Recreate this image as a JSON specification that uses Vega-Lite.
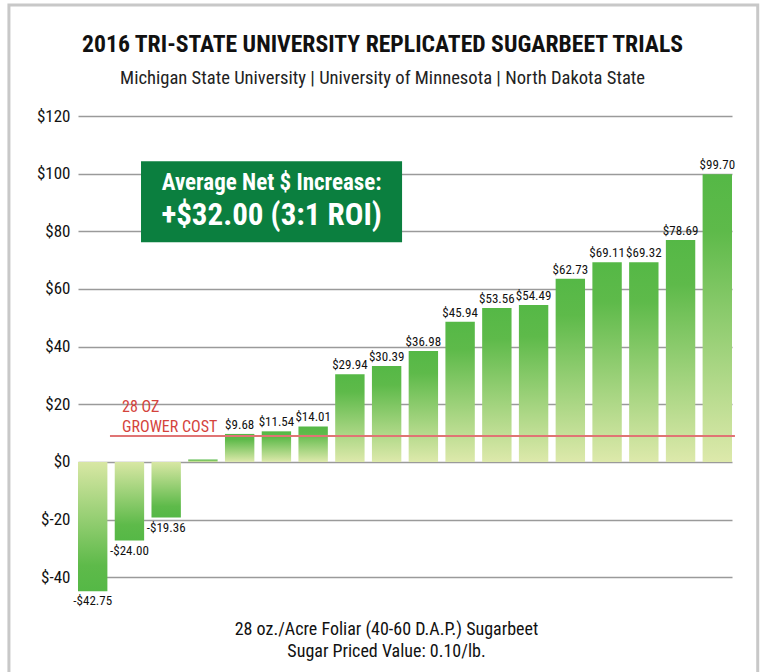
{
  "$schema": "https://vega.github.io/schema/vega-lite/v6.json",
  "autosize": "none",
  "width": 654,
  "height": 490,
  "padding": {"left": 78, "top": 116, "right": 31, "bottom": 66},
  "background": "white",
  "config": {
    "view": {"stroke": null},
    "font": "'Roboto Condensed', 'Liberation Sans Narrow', 'DejaVu Sans Condensed', Roboto, sans-serif"
  },
  "data": {
    "values": [
      {"i": 1, "value": -44.9, "label": "-$42.75"},
      {"i": 2, "value": -27.3, "label": "-$24.00"},
      {"i": 3, "value": -19.3, "label": "-$19.36"},
      {"i": 4, "value": 0.8, "label": ""},
      {"i": 5, "value": 9.7, "label": "$9.68"},
      {"i": 6, "value": 10.6, "label": "$11.54"},
      {"i": 7, "value": 12.3, "label": "$14.01"},
      {"i": 8, "value": 30.4, "label": "$29.94"},
      {"i": 9, "value": 33.3, "label": "$30.39"},
      {"i": 10, "value": 38.5, "label": "$36.98"},
      {"i": 11, "value": 48.6, "label": "$45.94"},
      {"i": 12, "value": 53.4, "label": "$53.56"},
      {"i": 13, "value": 54.4, "label": "$54.49"},
      {"i": 14, "value": 63.5, "label": "$62.73"},
      {"i": 15, "value": 69.3, "label": "$69.11"},
      {"i": 16, "value": 69.3, "label": "$69.32"},
      {"i": 17, "value": 77.0, "label": "$78.69"},
      {"i": 18, "value": 99.8, "label": "$99.70"}
    ]
  },
  "layer": [
    {
      "transform": [{"filter": "datum.value >= 0"}, {"calculate": "datum.i - 0.4", "as": "x0"}, {"calculate": "datum.i + 0.4", "as": "x1"}],
      "mark": {
        "type": "rect",
        "color": {
          "gradient": "linear", "x1": 0, "y1": 0, "x2": 0, "y2": 1,
          "stops": [
            {"offset": 0, "color": "#55b846"},
            {"offset": 0.2, "color": "#5eba4a"},
            {"offset": 1, "color": "#dde9ab"}
          ]
        }
      },
      "encoding": {
        "x": {"field": "x0", "type": "quantitative", "scale": {"domain": [0.6, 18.4], "nice": false, "zero": false}, "axis": {"title": ["28 oz./Acre Foliar (40-60 D.A.P.) Sugarbeet", "Sugar Priced Value: 0.10/lb."], "labels": false, "ticks": false, "domain": false, "grid": false, "titleFontSize": 18, "titleFontWeight": "normal", "titleColor": "#111111", "titleLineHeight": 22, "titlePadding": 14, "titleX": 308, "titleAnchor": "middle"}},
        "x2": {"field": "x1"},
        "y": {"field": "value", "type": "quantitative", "scale": {"domain": [-50, 120], "nice": false}, "axis": {"title": null, "values": [-40, -20, 0, 20, 40, 60, 80, 100, 120], "labelExpr": "'$' + datum.value", "labelFontSize": 17, "labelColor": "#111111", "labelPadding": 8, "ticks": false, "domain": false, "grid": true, "gridColor": "#9a9a9a", "gridWidth": 1.5}},
        "y2": {"datum": 0}
      }
    },
    {
      "transform": [{"filter": "datum.value < 0"}, {"calculate": "datum.i - 0.4", "as": "x0"}, {"calculate": "datum.i + 0.4", "as": "x1"}],
      "mark": {
        "type": "rect",
        "color": {
          "gradient": "linear", "x1": 0, "y1": 0, "x2": 0, "y2": 1,
          "stops": [
            {"offset": 0, "color": "#d8e7a4"},
            {"offset": 0.8, "color": "#5eba4a"},
            {"offset": 1, "color": "#55b846"}
          ]
        }
      },
      "encoding": {
        "x": {"field": "x0", "type": "quantitative"},
        "x2": {"field": "x1"},
        "y": {"field": "value", "type": "quantitative"},
        "y2": {"datum": 0}
      }
    },
    {
      "transform": [{"filter": "datum.value >= 0"}],
      "mark": {"type": "text", "baseline": "alphabetic", "dy": -5, "fontSize": 13, "color": "#111111"},
      "encoding": {
        "x": {"field": "i", "type": "quantitative"},
        "y": {"field": "value", "type": "quantitative"},
        "text": {"field": "label"}
      }
    },
    {
      "transform": [{"filter": "datum.value < 0"}],
      "mark": {"type": "text", "baseline": "top", "dy": 4, "fontSize": 13, "color": "#111111"},
      "encoding": {
        "x": {"field": "i", "type": "quantitative"},
        "y": {"field": "value", "type": "quantitative"},
        "text": {"field": "label"}
      }
    },
    {
      "data": {"values": [{"cost": 9.0, "from": 1.47, "to": 18.48}]},
      "mark": {"type": "rule", "color": "#e07474", "strokeWidth": 2},
      "encoding": {
        "x": {"field": "from", "type": "quantitative"},
        "x2": {"field": "to"},
        "y": {"field": "cost", "type": "quantitative"}
      }
    },
    {
      "data": {"values": [{"x": 1.8, "y": 17.3, "t": "28 OZ"}, {"x": 1.8, "y": 10.3, "t": "GROWER COST"}]},
      "mark": {"type": "text", "align": "left", "baseline": "alphabetic", "fontSize": 16, "color": "#d4433c"},
      "encoding": {
        "x": {"field": "x", "type": "quantitative"},
        "y": {"field": "y", "type": "quantitative"},
        "text": {"field": "t"}
      }
    },
    {
      "data": {"values": [{"x": 2.315, "x2": 9.42, "y": 104.3, "y2": 76.2}]},
      "mark": {"type": "rect", "color": "#0b7f3f"},
      "encoding": {
        "x": {"field": "x", "type": "quantitative"},
        "x2": {"field": "x2"},
        "y": {"field": "y", "type": "quantitative"},
        "y2": {"field": "y2"}
      }
    },
    {
      "data": {"values": [{"x": 5.87, "y": 94.2, "t": "Average Net $ Increase:"}]},
      "mark": {"type": "text", "align": "center", "baseline": "alphabetic", "fontWeight": "bold", "fontSize": 23, "color": "white"},
      "encoding": {
        "x": {"field": "x", "type": "quantitative"},
        "y": {"field": "y", "type": "quantitative"},
        "text": {"field": "t"}
      }
    },
    {
      "data": {"values": [{"x": 5.87, "y": 82.2, "t": "+$32.00 (3:1 ROI)"}]},
      "mark": {"type": "text", "align": "center", "baseline": "alphabetic", "fontWeight": "bold", "fontSize": 31, "color": "white"},
      "encoding": {
        "x": {"field": "x", "type": "quantitative"},
        "y": {"field": "y", "type": "quantitative"},
        "text": {"field": "t"}
      }
    },
    {
      "data": {"values": [{"x": 8.89, "y": 142.2, "t": "2016 TRI-STATE UNIVERSITY REPLICATED SUGARBEET TRIALS"}]},
      "mark": {"type": "text", "align": "center", "baseline": "alphabetic", "fontWeight": "bold", "fontSize": 23.7, "color": "#111111"},
      "encoding": {
        "x": {"field": "x", "type": "quantitative"},
        "y": {"field": "y", "type": "quantitative"},
        "text": {"field": "t"}
      }
    },
    {
      "data": {"values": [{"x": 8.89, "y": 131.1, "t": "Michigan State University | University of Minnesota | North Dakota State"}]},
      "mark": {"type": "text", "align": "center", "baseline": "alphabetic", "fontSize": 18.6, "color": "#222222"},
      "encoding": {
        "x": {"field": "x", "type": "quantitative"},
        "y": {"field": "y", "type": "quantitative"},
        "text": {"field": "t"}
      }
    },
    {
      "data": {"values": [{"x": -1.28, "x2": 19.1, "y": 158.5, "y2": -85}]},
      "mark": {"type": "rect", "fill": null, "stroke": "#c8c8c8", "strokeWidth": 3},
      "encoding": {
        "x": {"field": "x", "type": "quantitative"},
        "x2": {"field": "x2"},
        "y": {"field": "y", "type": "quantitative"},
        "y2": {"field": "y2"}
      }
    }
  ]
}
